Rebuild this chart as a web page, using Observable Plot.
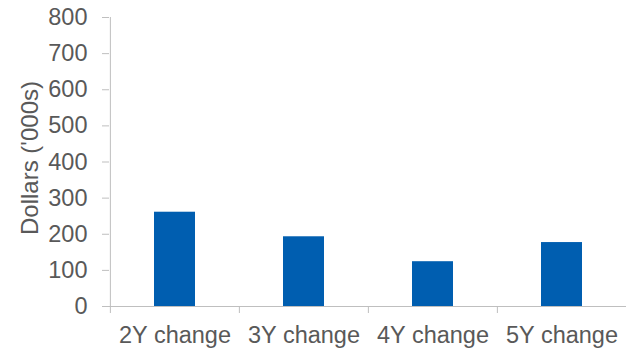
<!DOCTYPE html>
<html>
<head>
<meta charset="utf-8">
<script src="https://cdn.jsdelivr.net/npm/d3@7"></script>
<script src="https://cdn.jsdelivr.net/npm/@observablehq/plot@0.6"></script>
<style>
  html, body { margin: 0; padding: 0; background: #ffffff; }
  #chart svg { display: block; }
</style>
</head>
<body>
<div id="chart"></div>
<script>
const categories = ["2Y change", "3Y change", "4Y change", "5Y change"];
const values = [261, 193, 124, 177];
const yTicks = [0, 100, 200, 300, 400, 500, 600, 700, 800];
const yLabel = "Dollars ('000s)";

const data = categories.map((c, i) => ({category: c, value: values[i]}));

const W = 626, H = 352, ML = 109, MR = 0, MT = 17, MB = 46;
const bandW = (W - ML - MR) / categories.length;
const axisColor = "#bfbfbf";
const textColor = "#595959";

const chart = Plot.plot({
  width: W,
  height: H,
  marginLeft: ML,
  marginRight: MR,
  marginTop: MT,
  marginBottom: MB,
  style: {fontFamily: "'Liberation Sans', Arial, sans-serif", background: "#ffffff"},
  x: {domain: categories, padding: 0, label: null},
  y: {domain: [0, 800], ticks: yTicks, label: null},
  marks: [
    Plot.barY(data, {x: "category", y: "value", fill: "#005eb0", insetLeft: 44, insetRight: 44}),
    Plot.ruleY([0], {stroke: axisColor}),
    Plot.ruleX([categories[0]], {x: d => d, y1: 800, y2: 0, insetBottom: -7, dx: -bandW / 2, stroke: axisColor}),
    Plot.ruleX(categories.slice(1), {x: d => d, y1: 0, y2: 0, insetBottom: -7, dx: -bandW / 2, stroke: axisColor}),
    Plot.axisY({ticks: yTicks, tickSize: 7, tickPadding: 15, fontSize: 23.5, stroke: axisColor, fill: textColor, label: null}),
    Plot.axisX({tickSize: 0, tickPadding: 20, fontSize: 23.5, fill: textColor, label: null}),
    Plot.text([yLabel], {text: d => d, frameAnchor: "left", textAnchor: "middle", rotate: -90, dx: -89, dy: -4, lineAnchor: "top", fontSize: 24, fill: textColor})
  ]
});
document.getElementById("chart").append(chart);
</script>
</body>
</html>
